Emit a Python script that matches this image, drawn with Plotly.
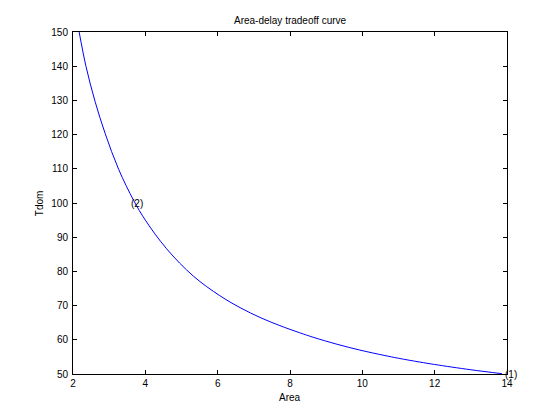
import plotly.graph_objects as go

# Data
area = [2.17, 2.36, 2.61, 2.89, 3.26, 3.68, 4.0, 4.59, 5.33, 6.06, 6.62, 7.2, 7.72,
        8.27, 8.64, 9.3, 9.93, 10.6, 11.0, 11.59, 12.0, 13.0, 13.86]
tdom = [150.0, 139.9, 129.7, 120.3, 109.9, 100.7, 95.0, 86.6, 78.6, 72.9, 69.4, 66.4, 64.15,
        62.05, 60.75, 58.7, 57.0, 55.45, 54.6, 53.49, 52.78, 51.24, 50.1]

labels = ["(1)", "(2)"]
label_area = [14.0, 3.65]
label_tdom = [50.0, 100.0]

xticks = [2, 4, 6, 8, 10, 12, 14]
yticks = [50, 60, 70, 80, 90, 100, 110, 120, 130, 140, 150]

FONT = "Liberation Sans, Arial, Helvetica, sans-serif"

fig = go.Figure()
fig.add_trace(go.Scatter(x=area, y=tdom, mode="lines",
                         line=dict(color="#0000FF", width=1, shape="spline", smoothing=1.0),
                         showlegend=False, hoverinfo="skip"))

annotations = []
for t, ax, ay in zip(labels, label_area, label_tdom):
    annotations.append(dict(x=ax, y=ay, xref="x", yref="y", text=t, showarrow=False,
                            xanchor="left", yanchor="middle", xshift=-3, borderpad=0,
                            font=dict(size=10, color="black", family=FONT)))
annotations.append(dict(x=0.5, y=1.033, xref="paper", yref="paper", text="Area-delay tradeoff curve",
                        showarrow=False, xanchor="center", yanchor="middle",
                        font=dict(size=10, color="black", family=FONT)))
annotations.append(dict(x=0.5, y=-0.068, xref="paper", yref="paper", text="Area",
                        showarrow=False, xanchor="center", yanchor="middle",
                        font=dict(size=10, color="black", family=FONT)))
annotations.append(dict(x=-0.078, y=0.5, xref="paper", yref="paper", text="Tdom", textangle=-90,
                        showarrow=False, xanchor="center", yanchor="middle",
                        font=dict(size=10, color="black", family=FONT)))

axis_common = dict(showgrid=False, zeroline=False, showline=True, linecolor="black", linewidth=1,
                   mirror="ticks", ticks="inside", ticklen=4, tickcolor="black", tickwidth=1,
                   tickfont=dict(size=10, color="black", family=FONT))

# page body has an 8px margin, so the figure is 544x404 placed at (8, 8)
fig.update_layout(
    width=544, height=404, autosize=False,
    margin=dict(l=65, r=45, t=24, b=38, pad=0),
    paper_bgcolor="white", plot_bgcolor="white",
    xaxis=dict(range=[2, 14], tickvals=xticks, ticktext=[str(v) for v in xticks], **axis_common),
    yaxis=dict(range=[50, 150], tickvals=yticks, ticktext=[str(v) for v in yticks],
               ticklabelstandoff=2, **axis_common),
    annotations=annotations,
)

fig.write_html("out.html")
